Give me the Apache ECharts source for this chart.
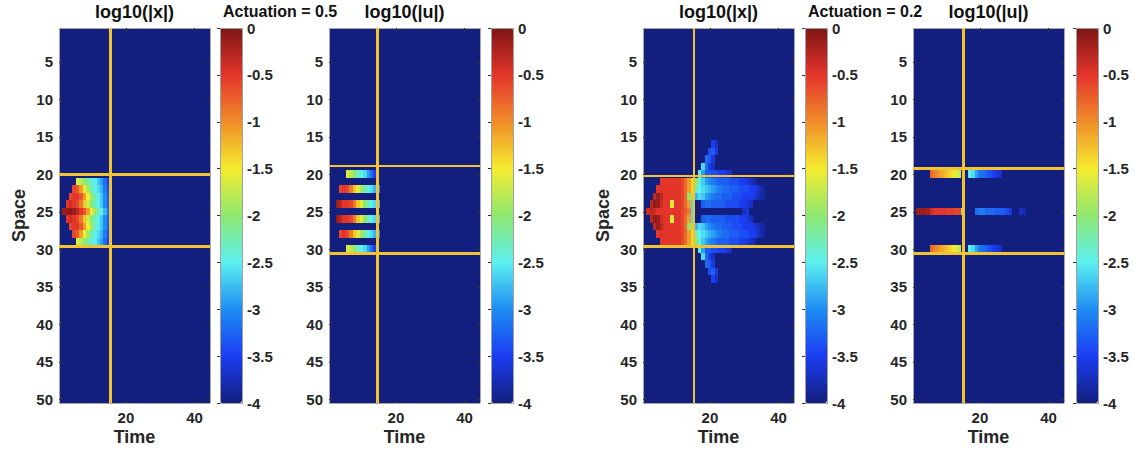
<!DOCTYPE html>
<html><head><meta charset="utf-8">
<script src="https://cdn.jsdelivr.net/npm/echarts@6/dist/echarts.min.js"></script>
<style>html,body{margin:0;padding:0;background:#fff}#c{width:1135px;height:451px}#c svg path{shape-rendering:crispEdges}</style>
</head><body><div id="c"></div>
<script>
// ---------------- data ----------------
const timeCategories = Array.from({length: 44}, (_, i) => String(i + 1));
const spaceCategories = Array.from({length: 50}, (_, i) => String(i + 1));
const timeTicks = [20, 40];
const spaceTicks = [5, 10, 15, 20, 25, 30, 35, 40, 45, 50];
const colorMin = -4, colorMax = 0;
const FLOOR = -4; // clipped background value
const panelTitles = ['log10(|x|)', 'log10(|u|)', 'log10(|x|)', 'log10(|u|)'];
const actuationLabels = ['Actuation = 0.5', 'Actuation = 0.2'];
const switchTime = [15.5, 14.6, 15.4, 15.3];
const bandEdges = [[20, 29.65], [18.9, 30.55], [20.25, 29.65], [19.25, 30.55]];

// sparse rows: [space row, first time column, values...]
const xAct05 = [
  [21, 6, [-1.6,-1.8,-2.0,-2.2,-2.4,-2.5,-2.7,-2.9,-3.2,-3.5]],
  [22, 5, [-0.6,-0.7,-1.1,-1.5,-1.9,-2.2,-2.5,-2.6,-2.8,-3.1,-3.4]],
  [23, 4, [-0.6,-0.5,-0.5,-0.7,-1.1,-1.5,-1.9,-2.3,-2.5,-2.7,-3.0,-3.3]],
  [24, 3, [-0.5,-0.4,-0.5,-0.6,-0.9,-1.3,-1.7,-2.0,-2.3,-2.5,-2.7,-3.0,-3.3]],
  [25, 2, [-0.15,-0.1,-0.1,-0.15,-0.3,-0.5,-0.7,-1.1,-1.5,-1.9,-2.3,-2.5,-2.8,-3.2]],
  [26, 3, [-0.5,-0.4,-0.5,-0.6,-0.9,-1.3,-1.7,-2.0,-2.3,-2.5,-2.7,-3.0,-3.3]],
  [27, 4, [-0.6,-0.5,-0.5,-0.7,-1.1,-1.5,-1.9,-2.3,-2.5,-2.7,-3.0,-3.3]],
  [28, 5, [-0.6,-0.7,-1.1,-1.5,-1.9,-2.2,-2.5,-2.6,-2.8,-3.1,-3.4]],
  [29, 6, [-1.6,-1.8,-2.0,-2.2,-2.4,-2.5,-2.7,-2.9,-3.2,-3.5]]
];
const uAct05 = [
  [20, 6, [-1.6,-1.8,-2.0,-2.3,-2.5,-2.6,-2.9,-3.2,-3.5]],
  [22, 4, [-0.6,-0.5,-0.6,-0.9,-1.3,-1.6,-1.9,-2.2,-2.5,-2.6,-2.8,-3.0]],
  [24, 3, [-0.15,-0.3,-0.5,-0.5,-0.6,-0.9,-1.3,-1.6,-2.0,-2.3,-2.5,-2.6,-2.8]],
  [26, 3, [-0.15,-0.3,-0.5,-0.5,-0.6,-0.9,-1.3,-1.6,-2.0,-2.3,-2.5,-2.6,-2.8]],
  [28, 4, [-0.6,-0.5,-0.6,-0.9,-1.3,-1.6,-1.9,-2.2,-2.5,-2.6,-2.8,-3.0]],
  [30, 6, [-1.6,-1.8,-2.0,-2.3,-2.5,-2.6,-2.9,-3.2,-3.5]]
];
const xAct02 = [
  [16, 21, [-3.5,-3.7]],
  [17, 20, [-3.4,-3.3,-3.6]],
  [18, 19, [-3.2,-3.3,-3.6]],
  [19, 18, [-2.6,-3.2,-3.5,-3.7]],
  [20, 17, [-2.4,-2.9,-3.3,-3.3,-3.4,-3.4,-3.5,-3.5,-3.6,-3.7]],
  [21, 6, [-0.5,-0.5,-0.5,-0.5,-0.5,-0.5,-0.6,-0.8,-1.1,-1.4,
           -2.0,-2.4,-2.7,-2.9,-3.0,-3.1,-3.2,-3.3,-3.3,-3.3,-3.4,-3.4,-3.4,-3.5,-3.5,-3.6,-3.7,-3.8]],
  [22, 5, [-0.5,-0.45,-0.5,-0.5,-0.5,-0.5,-0.5,-0.6,-0.8,-1.1,-1.4,
           -2.3,-2.5,-2.6,-2.7,-2.8,-2.9,-3.0,-3.1,-3.2,-3.2,-3.3,-3.3,-3.3,-3.4,-3.4,-3.4,-3.5,-3.5,-3.6,-3.8,-3.9]],
  [23, 4, [-0.3,-0.15,-0.3,-0.5,-0.5,-0.5,-0.5,-0.5,-0.6,-0.8,-2.0,-1.3,
           -2.8,-2.6,-2.7,-2.9,-3.0,-3.1,-3.2,-3.2,-3.3,-3.3,-3.3,-3.4,-3.4,-3.4,-3.5,-3.5,-3.5,-3.6,-3.7,-3.8,-3.9]],
  [24, 3, [-0.3,-0.1,-0.15,-0.4,-0.5,-0.5,-1.6,-0.5,-0.5,-0.6,-0.8,-1.1,-2.6]],
  [24, 18, [-3.3,-3.2,-3.2,-3.3,-3.3,-3.3,-3.3,-3.4,-3.4,-3.4,-3.4,-3.5,-3.5,-3.6,-3.7]],
  [25, 2, [-0.4,-0.3,-0.4,-0.5,-0.5,-0.5,-0.5,-0.5,-0.5,-0.5,-0.6,-0.7,-0.9,-2.6]],
  [25, 30, [-3.7,-3.6]],
  [26, 3, [-0.3,-0.1,-0.15,-0.4,-0.5,-0.5,-1.6,-0.5,-0.5,-0.6,-0.8,-1.1,-2.6]],
  [26, 18, [-3.3,-3.2,-3.2,-3.3,-3.3,-3.3,-3.3,-3.4,-3.4,-3.4,-3.4,-3.5,-3.5,-3.6,-3.7]],
  [27, 4, [-0.3,-0.15,-0.3,-0.5,-0.5,-0.5,-0.5,-0.5,-0.6,-0.8,-2.0,-1.3,
           -2.8,-2.6,-2.7,-2.9,-3.0,-3.1,-3.2,-3.2,-3.3,-3.3,-3.3,-3.4,-3.4,-3.4,-3.5,-3.5,-3.5,-3.6,-3.7,-3.8,-3.9]],
  [28, 5, [-0.5,-0.45,-0.5,-0.5,-0.5,-0.5,-0.5,-0.6,-0.8,-1.1,-1.4,
           -2.3,-2.5,-2.6,-2.7,-2.8,-2.9,-3.0,-3.1,-3.2,-3.2,-3.3,-3.3,-3.3,-3.4,-3.4,-3.4,-3.5,-3.5,-3.6,-3.8,-3.9]],
  [29, 6, [-0.5,-0.5,-0.5,-0.5,-0.5,-0.5,-0.6,-0.8,-1.1,-1.4,
           -2.0,-2.4,-2.7,-2.9,-3.0,-3.1,-3.2,-3.3,-3.3,-3.3,-3.4,-3.4,-3.4,-3.5,-3.5,-3.6,-3.7,-3.8]],
  [30, 17, [-2.4,-2.9,-3.3,-3.3,-3.4,-3.4,-3.5,-3.5,-3.6,-3.7]],
  [31, 18, [-2.6,-3.2,-3.5,-3.7]],
  [32, 19, [-3.2,-3.3,-3.6]],
  [33, 20, [-3.4,-3.3,-3.6]],
  [34, 21, [-3.5,-3.7]]
];
const uAct02 = [
  [20, 6, [-0.8,-0.95,-1.05,-1.15,-1.25,-1.35,-1.45,-1.55,-1.7]],
  [20, 17, [-2.5,-2.6,-2.9,-3.1,-3.2,-3.3,-3.4,-3.5,-3.6,-3.7]],
  [25, 2, [-0.15,-0.15,-0.15,-0.2,-0.4,-0.5,-0.5,-0.5,-0.5,-0.55,-0.55,-0.6,-0.6,-2.0]],
  [25, 19, [-3.2,-3.1,-3.1,-3.2,-3.2,-3.2,-3.3,-3.3,-3.3,-3.4,-3.6]],
  [25, 32, [-3.7,-3.8]],
  [30, 6, [-0.8,-0.95,-1.05,-1.15,-1.25,-1.35,-1.45,-1.55,-1.7]],
  [30, 17, [-2.5,-2.6,-2.9,-3.1,-3.2,-3.3,-3.4,-3.5,-3.6,-3.7]]
];
const panelData = [xAct05, uAct05, xAct02, uAct02];

// ---------------- layout & style ----------------
const FONT = '"Liberation Sans", Arial, Helvetica, sans-serif';
const TXT = '#262626';
const jet = ['#131f7e', '#1b3df2', '#1e8cf2', '#5cf0f0', '#8ee870', '#f5ec2e', '#f08c2a', '#e4352b', '#7d1414'];
const plotLeft = [59, 329, 643, 913];
const cbLeft = [220, 491, 805, 1076];
const TOP = 28, H = 375, PW = 151, CBW = 22;
const GOLD = '#f4c430';

function buildCells(segments) {
  const m = {};
  segments.forEach(([row, start, vals]) => vals.forEach((v, k) => { m[row + ',' + (start + k)] = v; }));
  const out = [];
  spaceCategories.forEach((s, r) => timeCategories.forEach((t, c) => {
    const v = m[(r + 1) + ',' + (c + 1)];
    out.push([c, r, v === undefined ? FLOOR : v]);
  }));
  return out;
}

const grid = [], xAxis = [], yAxis = [], series = [], visualMap = [], graphic = [];
const lbl = {fontSize: 15, fontWeight: 'bold', color: TXT, fontFamily: FONT};

for (let i = 0; i < 4; i++) {
  grid.push({left: plotLeft[i], top: TOP, width: PW, height: H, show: false});
  xAxis.push({type: 'category', gridIndex: i, data: timeCategories, show: false, boundaryGap: true});
  xAxis.push({type: 'value', gridIndex: i, min: 0.5, max: 44.5, position: 'bottom', z: 5,
    axisLine: {show: true, onZero: false, lineStyle: {color: '#a8a8a8', width: 1}},
    axisTick: {show: true, inside: true, length: 4, customValues: timeTicks, lineStyle: {color: '#333'}},
    axisLabel: Object.assign({show: true, margin: 7, customValues: timeTicks}, lbl),
    splitLine: {show: false}});
  xAxis.push({type: 'value', gridIndex: i, min: 0.5, max: 44.5, position: 'top', z: 5,
    axisLine: {show: true, onZero: false, lineStyle: {color: '#a8a8a8', width: 1}},
    axisTick: {show: true, inside: true, length: 4, customValues: timeTicks, lineStyle: {color: '#333'}},
    axisLabel: {show: false}, splitLine: {show: false}});
  yAxis.push({type: 'category', gridIndex: i, data: spaceCategories, inverse: true, show: false, boundaryGap: true});
  yAxis.push({type: 'value', gridIndex: i, min: 0.5, max: 50.5, inverse: true, position: 'left', z: 5,
    axisLine: {show: true, onZero: false, lineStyle: {color: '#a8a8a8', width: 1}},
    axisTick: {show: true, inside: true, length: 4, customValues: spaceTicks, lineStyle: {color: '#333'}},
    axisLabel: Object.assign({show: true, margin: 6, customValues: spaceTicks}, lbl),
    splitLine: {show: false}});
  yAxis.push({type: 'value', gridIndex: i, min: 0.5, max: 50.5, inverse: true, position: 'right', z: 5,
    axisLine: {show: true, onZero: false, lineStyle: {color: '#a8a8a8', width: 1}},
    axisTick: {show: true, inside: true, length: 4, customValues: spaceTicks, lineStyle: {color: '#333'}},
    axisLabel: {show: false}, splitLine: {show: false}});

  series.push({type: 'heatmap', xAxisIndex: 3 * i, yAxisIndex: 3 * i, data: buildCells(panelData[i]),
    progressive: 0, animation: false, itemStyle: {borderWidth: 0}, emphasis: {disabled: true}, z: 2});
  visualMap.push({type: 'continuous', seriesIndex: i, min: colorMin, max: colorMax, calculable: false,
    orient: 'vertical', left: cbLeft[i], top: TOP, itemWidth: CBW, itemHeight: H, padding: 0,
    text: null, showLabel: false, hoverLink: false, inRange: {color: jet}});
}
for (let i = 0; i < 4; i++) {
  const lineBase = {type: 'line', xAxisIndex: 3 * i + 1, yAxisIndex: 3 * i + 1, symbol: 'none', silent: true,
    animation: false, z: 6, lineStyle: {color: GOLD, width: 2.6}};
  series.push(Object.assign({}, lineBase, {data: [[switchTime[i], 0.5], [switchTime[i], 50.5]]}));
  bandEdges[i].forEach(e => series.push(Object.assign({}, lineBase, {data: [[0.5, e], [44.5, e]]})));
}
// colorbars
for (let j = 0; j < 4; j++) {
  grid.push({left: cbLeft[j], top: TOP, width: CBW, height: H, show: true, z: 10,
    borderColor: '#a0a0a0', borderWidth: 1, backgroundColor: 'transparent'});
  xAxis.push({type: 'value', gridIndex: 4 + j, show: false, min: 0, max: 1});
  yAxis.push({type: 'value', gridIndex: 4 + j, min: colorMin, max: colorMax, interval: 0.5, position: 'right', z: 10,
    axisLine: {show: false}, axisTick: {show: true, inside: true, length: 3, lineStyle: {color: '#333'}},
    axisLabel: Object.assign({show: true, margin: 5}, lbl), splitLine: {show: false}});
}
// texts
const titleFont = 'bold 18px ' + FONT;
for (let i = 0; i < 4; i++) {
  const cx = plotLeft[i] + PW / 2;
  graphic.push({type: 'text', x: cx, y: 12, z: 20, style: {text: panelTitles[i], font: titleFont, fill: '#111',
    textAlign: 'center', textVerticalAlign: 'middle'}});
  graphic.push({type: 'text', x: cx, y: 437, z: 20, style: {text: 'Time', font: titleFont, fill: TXT,
    textAlign: 'center', textVerticalAlign: 'middle'}});
}
[0, 2].forEach((i, k) => {
  graphic.push({type: 'text', x: plotLeft[i] - 40, y: TOP + H / 2, rotation: Math.PI / 2, z: 20,
    style: {text: 'Space', font: titleFont, fill: TXT, textAlign: 'center', textVerticalAlign: 'middle'}});
  graphic.push({type: 'text', x: cbLeft[i] + 3, y: 11.5, z: 20,
    style: {text: actuationLabels[k], font: 'bold 16px ' + FONT, fill: '#111', textAlign: 'left', textVerticalAlign: 'middle'}});
});

const chart = echarts.init(document.getElementById('c'), null, {renderer: 'svg'});
chart.setOption({animation: false, backgroundColor: '#fff', grid, xAxis, yAxis, series, visualMap, graphic});
</script></body></html>
